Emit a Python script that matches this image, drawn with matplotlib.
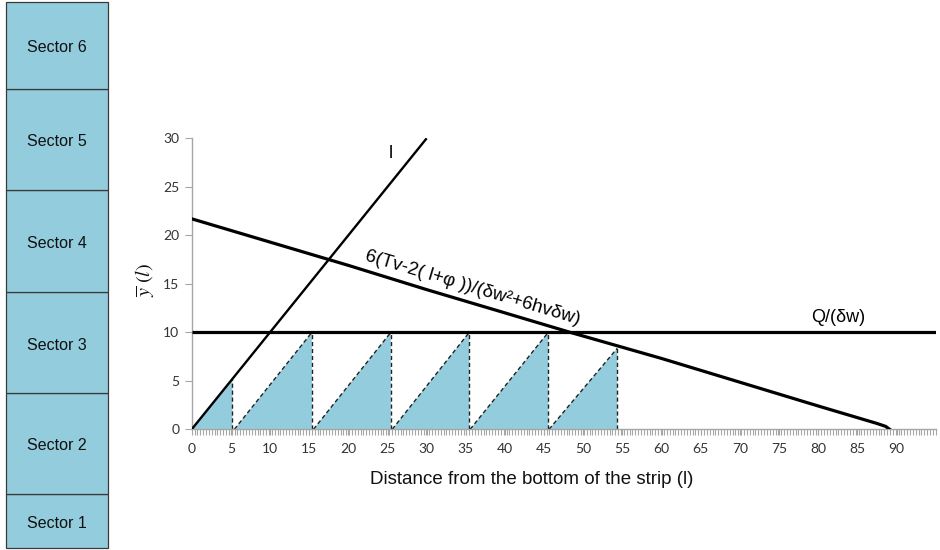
import matplotlib
matplotlib.use("Agg")
import matplotlib.pyplot as plt
from matplotlib.patches import Rectangle, Polygon
from matplotlib.ticker import MultipleLocator
import numpy as np

# ---------------- data ----------------
sector_names = ["Sector 1", "Sector 2", "Sector 3", "Sector 4", "Sector 5", "Sector 6"]
sector_edges = [0, 54, 155, 256, 358, 459, 546]   # sector boundaries (bottom to top)

l_x = [0, 30]
l_y = [0, 30]

desc_x = [0, 10, 20, 30, 40, 48.3, 60, 70, 80, 85, 87.5, 88.6, 89.1]
desc_y = [21.7, 19.3, 16.9, 14.4, 12.0, 10.0, 7.3, 4.85, 2.4, 1.2, 0.6, 0.3, 0.0]

q_x = [0, 95]
q_y = [10, 10]

# triangles: start, end, top value
tri_start = [0.0, 5.45, 15.55, 25.6, 35.55, 45.62]
tri_end = [5.2, 15.35, 25.43, 35.44, 45.53, 54.33]
tri_top = [5.2, 10, 10, 10, 10, 8.35]

x_ticks = list(range(0, 95, 5))
y_ticks = list(range(0, 35, 5))

label_l = "l"
label_desc = "6(Tv-2( l+\u03c6 ))/(\u03b4w\u00b2+6hv\u03b4w)"
label_q = "Q/(\u03b4w)"
xlabel = "Distance from the bottom of the strip (l)"

FILL = "#93CDDD"
W, H = 940, 550

plt.rcParams["mathtext.fontset"] = "stix"
fig = plt.figure(figsize=(W / 100, H / 100), dpi=100)

# ---------------- sector column ----------------
sax = fig.add_axes([6 / W, 0, 102 / W, 1])
sax.set_xlim(0, 1)
sax.set_ylim(-2, H - 2)
sax.axis("off")
for i, name in enumerate(sector_names):
    y0, y1 = sector_edges[i], sector_edges[i + 1]
    sax.add_patch(Rectangle((0, y0), 1, y1 - y0, facecolor=FILL,
                            edgecolor="#3a3a3a", lw=0.9, clip_on=False))
    sax.text(0.5, (y0 + y1) / 2 - 2.5, name, ha="center", va="center",
             fontsize=11.5, family="Liberation Sans", color="#111111")

# ---------------- main chart ----------------
x0px, x1px = 191.7, 935.8
y0px, y1px = 429.3, 138.3
ax = fig.add_axes([x0px / W, 1 - y0px / H, (x1px - x0px) / W, (y0px - y1px) / H])
ax.set_xlim(0, 95)
ax.set_ylim(0, 30)

# triangles
for k, (s, e, t) in enumerate(zip(tri_start, tri_end, tri_top)):
    ax.add_patch(Polygon([(s, 0), (e, t), (e, 0)], closed=True,
                         facecolor=FILL, edgecolor="none", zorder=1))
    ax.plot([e, e], [0, t], color="#222222", lw=1.0, ls=(0, (3, 2)), zorder=2)
    if k > 0:
        ax.plot([s, e], [0, t], color="#222222", lw=1.0, ls=(0, (3, 2)), zorder=2)

ax.plot(l_x, l_y, color="black", lw=1.7, zorder=3, solid_capstyle="butt")
ax.plot(desc_x, desc_y, color="black", lw=2.3, zorder=3)
ax.plot(q_x, q_y, color="black", lw=2.3, zorder=3, solid_capstyle="butt")

# annotations
ax.text(25.4, 28.4, label_l, fontsize=13, family="Liberation Sans",
        ha="center", va="center")
ang = np.degrees(np.arctan(0.242 * (y0px - y1px) / 30 / ((x1px - x0px) / 95)))
ax.text(35.9, 14.6, label_desc, fontsize=13.5, family="Liberation Sans",
        rotation=-ang, rotation_mode="anchor", ha="center", va="center")
ax.text(82.5, 11.5, label_q, fontsize=13, family="Liberation Sans",
        ha="center", va="center")

# axes styling
for sp in ["top", "right"]:
    ax.spines[sp].set_visible(False)
ax.spines["left"].set_color("#a6a6a6")
ax.spines["bottom"].set_color("#a6a6a6")
ax.spines["left"].set_linewidth(1.0)
ax.spines["bottom"].set_linewidth(1.0)

ax.set_xticks(x_ticks)
ax.set_yticks(y_ticks)
ax.xaxis.set_minor_locator(MultipleLocator(95 / 260))
ax.tick_params(axis="x", which="both", direction="out", length=4, width=0.8,
               color="#a6a6a6", pad=6, labelsize=10, labelcolor="#333333")
ax.tick_params(axis="y", which="both", direction="out", length=5, width=0.8,
               color="#a6a6a6", pad=4, labelsize=10, labelcolor="#333333")
for lab in ax.get_xticklabels() + ax.get_yticklabels():
    lab.set_family("Lato")

ax.set_xlabel(xlabel, fontsize=13.5, family="Liberation Sans", color="#111111")
ax.xaxis.set_label_coords((532 - x0px) / (x1px - x0px), (y0px - 471) / (y0px - y1px))

ax.set_ylabel(r"$\overline{y}\ (l)$", fontsize=14.5, color="#111111")
ax.yaxis.set_label_coords((157 - x0px) / (x1px - x0px), (y0px - 280) / (y0px - y1px))

fig.savefig("out.png", dpi=100)
